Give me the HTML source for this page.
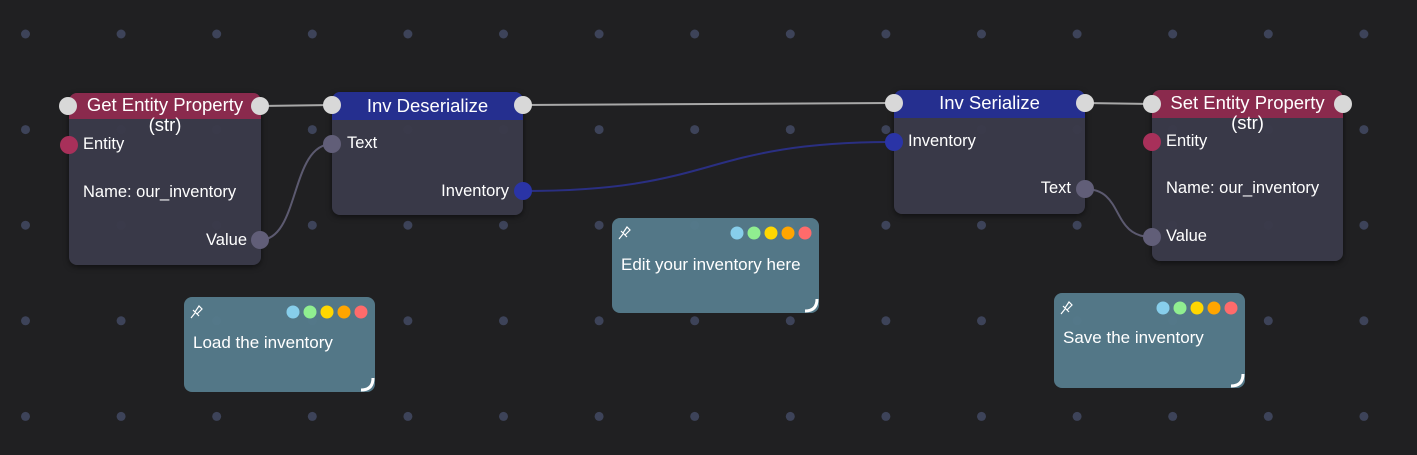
<!DOCTYPE html>
<html><head><meta charset="utf-8"><style>
body{margin:0;width:1417px;height:455px;background:#202022;overflow:hidden;position:relative;font-family:"Liberation Sans",Arial,sans-serif;color:#fff}
.node{position:absolute;background:rgba(58,58,74,0.96);border-radius:8px;box-shadow:0 2px 6px rgba(0,0,0,.5)}
.hd{position:absolute;left:0;top:0;right:0;border-radius:8px 8px 0 0;text-align:center;font-size:18.5px;line-height:20px}
.t{position:absolute;font-size:16.5px;white-space:nowrap}
.note{position:absolute;background:rgba(85,122,138,0.97);border-radius:8px}
.note .t{left:9px;font-size:17px}
svg{position:absolute;left:0;top:0}
</style></head><body>
<svg width="1417" height="455" id="grid"></svg>
<script>
var s='';for(var i=0;i<15;i++)for(var j=0;j<5;j++)s+='<circle cx="'+(25.5+i*95.6)+'" cy="'+(34+j*95.6)+'" r="4.5" fill="#3d4359"/>';
document.getElementById('grid').innerHTML=s;
</script>

<div class="node" style="left:69px;top:93px;width:192px;height:172px">
 <div class="hd" style="background:#8a2a4d;height:26px;padding-top:2px;box-sizing:border-box">Get Entity Property<br>(str)</div>
 <div class="t" style="left:14px;top:42px">Entity</div>
 <div class="t" style="left:14px;top:90px">Name: our_inventory</div>
 <div class="t" style="right:14px;top:138px">Value</div>
</div>
<div class="node" style="left:332px;top:92px;width:191px;height:123px">
 <div class="hd" style="background:#252f8f;height:28px;line-height:27px">Inv Deserialize</div>
 <div class="t" style="left:15px;top:42px">Text</div>
 <div class="t" style="right:14px;top:90px">Inventory</div>
</div>
<div class="node" style="left:894px;top:90px;width:191px;height:124px">
 <div class="hd" style="background:#252f8f;height:28px;line-height:25px">Inv Serialize</div>
 <div class="t" style="left:14px;top:42px">Inventory</div>
 <div class="t" style="right:14px;top:89px">Text</div>
</div>
<div class="node" style="left:1152px;top:90px;width:191px;height:171px">
 <div class="hd" style="background:#8a2a4d;height:28px;padding-top:3px;box-sizing:border-box">Set Entity Property<br>(str)</div>
 <div class="t" style="left:14px;top:42px">Entity</div>
 <div class="t" style="left:14px;top:89px">Name: our_inventory</div>
 <div class="t" style="left:14px;top:137px">Value</div>
</div>

<div class="note" style="left:184px;top:297px;width:191px;height:95px"><div class="t" style="top:36px">Load the inventory</div></div>
<div class="note" style="left:612px;top:218px;width:207px;height:95px"><div class="t" style="top:37px">Edit your inventory here</div></div>
<div class="note" style="left:1054px;top:293px;width:191px;height:95px"><div class="t" style="top:35px">Save the inventory</div></div>

<svg width="1417" height="455">
 <g fill="none" stroke-width="2">
  <path d="M260 106 L332 105" stroke="#a8a8a8"/>
  <path d="M523 105 L894 103" stroke="#a8a8a8"/>
  <path d="M1085 103 L1152 104" stroke="#a8a8a8"/>
  <path d="M260 240 C300 240 290 144 332 144" stroke="#5c5a70"/>
  <path d="M523 191 C720 191 700 142 894 142" stroke="#2a2f82"/>
  <path d="M1085 189 C1125 189 1110 237 1152 237" stroke="#5c5a70"/>
 </g>
 <g fill="#d8d8d8">
  <circle cx="68" cy="106" r="9"/><circle cx="260" cy="106" r="9"/>
  <circle cx="332" cy="105" r="9"/><circle cx="523" cy="105" r="9"/>
  <circle cx="894" cy="103" r="9"/><circle cx="1085" cy="103" r="9"/>
  <circle cx="1152" cy="104" r="9"/><circle cx="1343" cy="104" r="9"/>
 </g>
 <circle cx="69" cy="145" r="9" fill="#a8305a"/>
 <circle cx="1152" cy="142" r="9" fill="#a8305a"/>
 <circle cx="260" cy="240" r="9" fill="#615e78"/>
 <circle cx="332" cy="144" r="9" fill="#615e78"/>
 <circle cx="1085" cy="189" r="9" fill="#615e78"/>
 <circle cx="1152" cy="237" r="9" fill="#615e78"/>
 <circle cx="523" cy="191" r="9" fill="#2a34a6"/>
 <circle cx="894" cy="142" r="9" fill="#2a34a6"/>
 <g id="dots"></g>
</svg>
<script>
var notes=[[184,297,191],[612,218,207],[1054,293,191]];var cols=['#87ceeb','#90ee90','#ffd700','#ffa500','#ff6b6b'];var h='';
notes.forEach(function(n){var x=n[0]+n[2],y=n[1];for(var k=0;k<5;k++){h+='<circle cx="'+(x-14-(4-k)*17)+'" cy="'+(y+15)+'" r="6.5" fill="'+cols[k]+'"/>';}
h+='<path d="M'+(x-14)+' '+(y+93)+' Q'+(x-2)+' '+(y+93)+' '+(x-2)+' '+(y+81)+'" stroke="#fff" stroke-width="3" fill="none"/>';
var px=n[0]+12,py=y+14;h+='<path d="M'+(px-5)+' '+(py+7)+' L'+(px-1)+' '+(py+2)+' M'+(px-3)+' '+(py-1)+' L'+(px+3)+' '+(py+5)+' M'+(px-1)+' '+(py+1)+' L'+(px+3)+' '+(py-5)+' L'+(px+6)+' '+(py-2)+' L'+(px+1)+' '+(py+3)+'" stroke="#fff" stroke-width="1.2" fill="none"/>';});
document.getElementById('dots').innerHTML=h;
</script>
</body></html>
